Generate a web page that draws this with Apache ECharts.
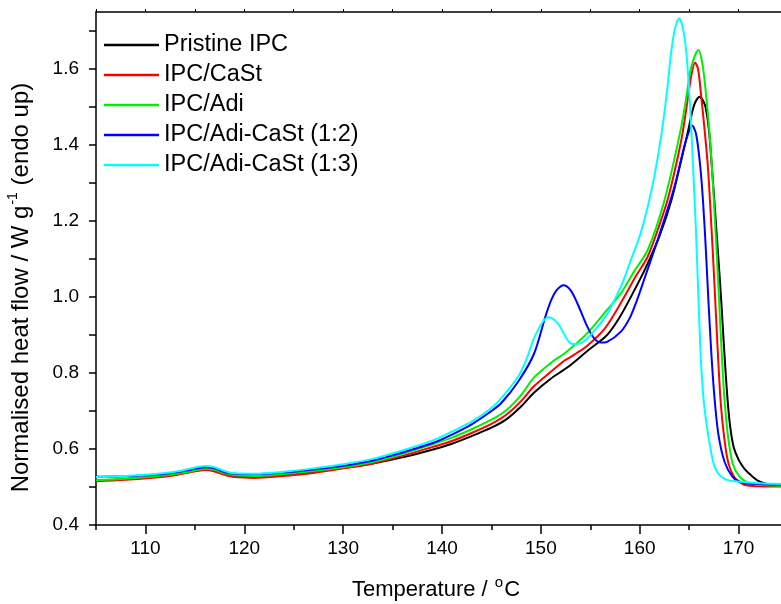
<!DOCTYPE html>
<html>
<head>
<meta charset="utf-8">
<script src="https://cdn.jsdelivr.net/npm/echarts@6/dist/echarts.min.js"></script>
<style>
  html, body { margin: 0; padding: 0; background: #fff; overflow: hidden; }
  /* plot is cropped on the right in the original, so the canvas is a bit wider than the window */
  #chart { width: 788px; height: 604px; }
</style>
</head>
<body>
<div id="chart"></div>
<script>
// temperature (C), normalised heat flow (W/g)
var seriesNames = ['Pristine IPC', 'IPC/CaSt', 'IPC/Adi', 'IPC/Adi-CaSt (1:2)', 'IPC/Adi-CaSt (1:3)'];
var seriesColors = ['#000000', '#ff0000', '#00f000', '#0000ff', '#00ffff'];

var pristine = [[105,0.517],[108,0.521],[111,0.527],[113,0.533],[114.5,0.540],[116,0.547],[117,0.544],[118,0.535],[119,0.529],[121,0.527],[124,0.532],[127,0.540],[130,0.550],[133,0.562],[136,0.578],[139,0.598],[141,0.614],[143,0.634],[145,0.656],[146.5,0.678],[148,0.712],[149.3,0.748],[151,0.785],[152.7,0.815],[154.7,0.858],[156.7,0.9],[158,0.948],[159,0.995],[160,1.045],[160.8,1.088],[162,1.16],[163.2,1.254],[164.2,1.36],[164.9,1.438],[165.5,1.505],[166.05,1.527],[166.6,1.505],[167,1.44],[167.3,1.342],[167.6,1.235],[167.9,1.123],[168.2,1.01],[168.5,0.88],[168.8,0.76],[169.1,0.67],[169.5,0.605],[170,0.572],[170.6,0.548],[171.3,0.53],[172,0.516],[173,0.507],[175,0.503]];

var caSt = [[105,0.515],[108,0.519],[111,0.525],[113,0.531],[114.5,0.539],[116,0.545],[117,0.541],[118,0.532],[119,0.526],[121,0.524],[124,0.529],[127,0.537],[130,0.549],[133,0.562],[136,0.582],[139,0.605],[141,0.621],[143,0.642],[145,0.666],[146.5,0.69],[148,0.726],[149.3,0.765],[151,0.803],[152.4,0.833],[153,0.842],[153.6,0.852],[154.7,0.872],[156.4,0.915],[157.5,0.958],[158.5,1.003],[159.5,1.05],[160.8,1.106],[162,1.19],[162.9,1.263],[164.2,1.412],[164.8,1.51],[165.2,1.58],[165.6,1.617],[165.9,1.6],[166.2,1.534],[166.6,1.43],[166.9,1.342],[167.2,1.21],[167.45,1.09],[167.7,0.96],[167.95,0.83],[168.2,0.72],[168.55,0.63],[168.95,0.565],[169.6,0.525],[170.6,0.506],[172,0.502],[175,0.501]];

var adi = [[105,0.518],[108,0.522],[111,0.528],[113,0.534],[114.5,0.541],[116,0.548],[117,0.545],[118,0.536],[119,0.531],[121,0.529],[124,0.534],[127,0.542],[130,0.552],[133,0.566],[136,0.587],[139,0.612],[141,0.630],[143,0.652],[145,0.677],[146.5,0.702],[148,0.742],[149.3,0.788],[151,0.826],[152.7,0.858],[154.7,0.905],[156.5,0.96],[158.1,1.01],[159.5,1.07],[160.8,1.123],[162.5,1.254],[164.2,1.447],[164.8,1.54],[165.2,1.604],[165.95,1.65],[166.3,1.62],[166.6,1.561],[167,1.45],[167.3,1.342],[167.55,1.23],[167.8,1.11],[168.05,0.98],[168.3,0.85],[168.55,0.74],[168.9,0.64],[169.4,0.562],[170.1,0.527],[171,0.511],[172.5,0.505],[175,0.503]];

var adiCaSt12 = [[105,0.527],[108,0.528],[111,0.532],[113,0.538],[114.5,0.545],[116,0.552],[117,0.549],[118,0.539],[119,0.535],[121,0.534],[124,0.538],[127,0.546],[130,0.556],[133,0.57],[136,0.591],[139,0.615],[141,0.638],[143,0.665],[145,0.7],[146,0.721],[147.7,0.777],[149.3,0.85],[150.5,0.952],[151.1,0.995],[151.6,1.018],[152.3,1.031],[153,1.018],[153.7,0.983],[154.7,0.922],[155.4,0.891],[156.1,0.88],[156.7,0.882],[158.1,0.909],[159,0.945],[159.7,0.99],[160.5,1.05],[161.8,1.149],[163.5,1.289],[164.4,1.385],[164.9,1.43],[165.3,1.451],[165.7,1.429],[166.1,1.35],[166.4,1.254],[166.7,1.12],[166.95,0.99],[167.25,0.85],[167.55,0.74],[167.95,0.64],[168.6,0.565],[169.4,0.527],[170.3,0.512],[172,0.508],[175,0.506]];

var adiCaSt13 = [[105,0.526],[108,0.529],[111,0.534],[113,0.54],[114.5,0.548],[116,0.555],[117,0.552],[118,0.542],[119,0.536],[121,0.535],[124,0.54],[127,0.549],[130,0.56],[133,0.574],[136,0.596],[139,0.622],[141,0.646],[143,0.672],[145,0.708],[146,0.734],[147.7,0.79],[148.6,0.84],[149.3,0.891],[150.2,0.935],[150.8,0.947],[151.7,0.931],[152.7,0.887],[153.2,0.876],[154,0.878],[154.7,0.891],[155.7,0.92],[156.7,0.955],[157.5,0.995],[158.3,1.04],[159.1,1.097],[160,1.16],[160.8,1.237],[161.5,1.32],[162.2,1.429],[162.8,1.55],[163.2,1.648],[163.6,1.71],[164.0,1.733],[164.35,1.71],[164.7,1.648],[165.1,1.5],[165.4,1.342],[165.7,1.167],[165.95,0.99],[166.2,0.83],[166.5,0.72],[166.9,0.642],[167.4,0.57],[167.9,0.537],[168.7,0.52],[169.6,0.515],[172,0.51],[175,0.508]];

var xMajorTicks = [110, 120, 130, 140, 150, 160, 170];
var xMinorTicks = [105, 115, 125, 135, 145, 155, 165, 175];
var xTopTicks = [105, 110, 115, 120, 125, 130, 135, 140, 145, 150, 155, 160, 165, 170, 175];
var yLabels = [0.4, 0.6, 0.8, 1.0, 1.2, 1.4, 1.6];
var yTicks = [0.4, 0.5, 0.6, 0.7, 0.8, 0.9, 1.0, 1.1, 1.2, 1.3, 1.4, 1.5, 1.6, 1.7];

var font = 'Liberation Sans, Arial, sans-serif';
var allData = [pristine, caSt, adi, adiCaSt12, adiCaSt13];

var chart = echarts.init(document.getElementById('chart'), null, {renderer: 'canvas'});

var series = [];
for (var i = 0; i < allData.length; i++) {
    series.push({
        name: seriesNames[i],
        type: 'line',
        xAxisIndex: 0,
        yAxisIndex: 0,
        data: allData[i],
        showSymbol: false,
        smooth: 0.3,
        lineStyle: {color: seriesColors[i], width: 2},
        itemStyle: {color: seriesColors[i]},
        z: 2 + i
    });
}

var option = {
    animation: false,
    backgroundColor: '#fff',
    textStyle: {fontFamily: font},
    grid: {left: 96, top: 12, right: 0, bottom: 79, outerBoundsMode: 'none'},
    legend: {
        orient: 'vertical',
        left: 99,
        top: 27,
        icon: 'rect',
        itemWidth: 55,
        itemHeight: 2.5,
        itemGap: 4,
        textStyle: {fontFamily: font, fontSize: 23.5, color: '#000', lineHeight: 26},
        data: seriesNames
    },
    xAxis: [{
        type: 'value',
        min: 105,
        max: 175,
        position: 'bottom',
        name: 'Temperature / {sup|o}C',
        nameLocation: 'middle',
        nameGap: 50,
        nameTextStyle: {
            fontFamily: font, fontSize: 22, color: '#000', lineHeight: 30, padding: [0, 12, 0, 0],
            rich: {sup: {fontFamily: font, fontSize: 15, verticalAlign: 'top', lineHeight: 15, padding: [0, 1, 0, 1]}}
        },
        axisLine: {show: true, lineStyle: {color: '#000', width: 1.5}},
        axisTick: {show: true, length: 9, customValues: xMajorTicks, lineStyle: {color: '#000', width: 1.5}},
        axisLabel: {customValues: xMajorTicks, fontSize: 19, color: '#000', margin: 14, fontFamily: font},
        splitLine: {show: false}
    }, {
        type: 'value',
        min: 105,
        max: 175,
        position: 'bottom',
        axisLine: {show: false},
        axisTick: {show: true, length: 5, customValues: xMinorTicks, lineStyle: {color: '#000', width: 1.5}},
        axisLabel: {show: false},
        splitLine: {show: false}
    }, {
        type: 'value',
        min: 105,
        max: 175,
        position: 'top',
        axisLine: {show: true, lineStyle: {color: '#000', width: 1.5}},
        axisTick: {show: true, length: 3, customValues: xTopTicks, lineStyle: {color: '#000', width: 1}},
        axisLabel: {show: false},
        splitLine: {show: false}
    }],
    yAxis: [{
        type: 'value',
        min: 0.4,
        max: 1.75,
        position: 'left',
        name: 'Normalised heat flow / W g{sup|-1} (endo up)',
        nameLocation: 'middle',
        nameGap: 60,
        nameTextStyle: {
            fontFamily: font, fontSize: 24, color: '#000', lineHeight: 30, padding: [0, 38, 0, 0],
            rich: {sup: {fontFamily: font, fontSize: 14, verticalAlign: 'top', lineHeight: 14, padding: [0, 0, 0, 1]}}
        },
        axisLine: {show: true, lineStyle: {color: '#000', width: 1.5}},
        axisTick: {show: true, length: 7, customValues: yTicks, lineStyle: {color: '#000', width: 1.5}},
        axisLabel: {
            customValues: yLabels, fontSize: 19, color: '#000', margin: 17, fontFamily: font,
            formatter: function (v) { return v.toFixed(1); }
        },
        splitLine: {show: false}
    }],
    series: series
};

chart.setOption(option);
</script>
</body>
</html>
